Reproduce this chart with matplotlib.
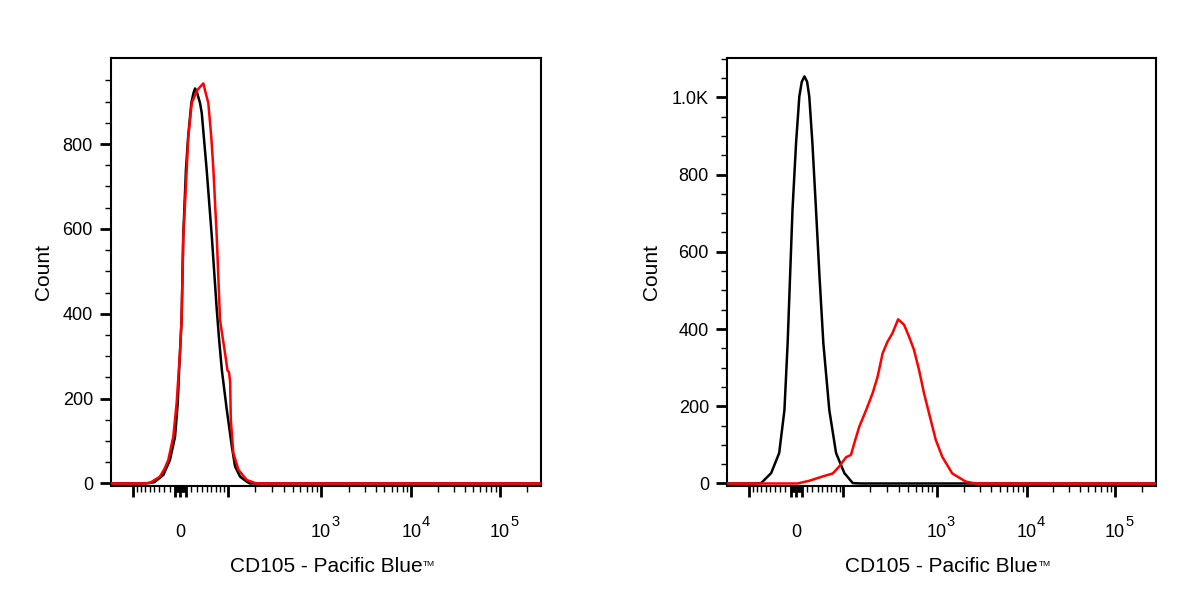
import numpy as np
import matplotlib
matplotlib.use("Agg")
import matplotlib.pyplot as plt

plt.rcParams['font.family'] = ['Liberation Sans', 'DejaVu Sans']

# histogram traces (intensity, count)
left_black_x = [-178, -70, -50, -32, -19.5, -10, -5, -2.5, 2, 5, 10, 14, 20, 24, 27, 30, 33.2,
                36.6, 40.1, 50.1, 61.2, 72.4, 78, 84.9, 98, 112.5, 122.5, 139.4, 165, 178, 290600]
left_black_y = [0, 0, 3, 20, 55, 110, 190, 267, 385, 581, 739, 816, 897, 920, 931, 925, 911,
                897, 873, 739, 581, 410, 340, 267, 173, 87, 40, 16, 4, 0, 0]

left_red_x = [-178, -83, -60, -38.7, -30, -22.6, -13.2, -7, -1, 2, 5.2, 11.4, 14.3, 20.8, 27,
              31.4, 37, 43.3, 47, 53.5, 60, 64.7, 72.4, 80.3, 93, 99.8, 104, 107.4, 109.4, 117,
              133.7, 165, 202, 230, 290600]
left_red_y = [0, 0, 1, 16, 34, 55, 110, 190, 308, 385, 581, 739, 816, 897, 915,
              927, 935, 943, 925, 897, 816, 739, 581, 385, 308, 267, 262, 240, 150, 72,
              32, 8, 1, 0, 0]

right_black_x = [-178, -90, -70, -48, -32, -22, -16, -11.5, -7, -0.5, 5.5, 10, 15, 20, 24, 30,
                 37, 44, 52, 65, 81, 103, 129, 160, 290600]
right_black_y = [0, 0, 1, 27, 79, 190, 363, 536, 709, 881, 1002, 1040, 1054, 1040, 1002, 881,
                 709, 536, 363, 190, 79, 27, 1, 0, 0]

right_red_x = [-178, 2, 24, 50, 73, 89, 108, 123, 134, 152, 180, 211, 238, 268, 301, 339, 389,
               449, 507, 572, 647, 731, 828, 979, 1153, 1482, 2082, 2684, 290600]
right_red_y = [0, 0, 7, 18, 26, 44, 68, 74, 104, 147, 190, 234, 277, 337, 367, 389, 425,
               411, 380, 346, 294, 234, 182, 113, 69, 26, 5, 0, 0]

x_label = "CD105 - Pacific Blue"
x_limits = (-178, 290600)
x_major = [-100, -10, 0, 10, 100, 1e3, 1e4, 1e5]
x_major_labels = ['', '', '0', '', '', '10', '10', '10']
x_exponents = {5: '3', 6: '4', 7: '5'}
x_minor = ([-s * m for m in range(1, 10) for s in (1, 10)] + [s * m for m in range(1, 10) for s in (1, 10)]
           + [s * m for m in range(2, 10) for s in (100, 1000, 10000)] + [2e5])

left_y_major = [0, 200, 400, 600, 800]
left_y_labels = ['0', '200', '400', '600', '800']
left_y_minor = list(range(50, 1000, 50))
left_ylim = (-6, 1004)

right_y_major = [0, 200, 400, 600, 800, 1000]
right_y_labels = ['0', '200', '400', '600', '800', '1.0K']
right_y_minor = list(range(50, 1101, 50))
right_ylim = (-6.5, 1103)

# biexponential (logicle-like) display transform
A_COEF = 24.5
P = 1.87


def biex(u):
    a = np.abs(u)
    return np.sign(u) * A_COEF * (10 ** a - P ** 2 * 10 ** (-a / P) + P ** 2 - 1)


u_grid = np.linspace(-3, 5.6, 60001)
s_grid = biex(u_grid)


def forward(x):
    return np.interp(x, s_grid, u_grid)


def inverse(u):
    return np.interp(u, u_grid, s_grid)


fig = plt.figure(figsize=(12, 6), dpi=100)
ax1 = fig.add_axes([111 / 1200, 114 / 600, 430 / 1200, 428.5 / 600])
ax2 = fig.add_axes([727 / 1200, 114 / 600, 429 / 1200, 428.5 / 600])

panels = [
    (ax1, left_black_x, left_black_y, left_red_x, left_red_y,
     left_y_major, left_y_labels, left_y_minor, left_ylim, -0.156),
    (ax2, right_black_x, right_black_y, right_red_x, right_red_y,
     right_y_major, right_y_labels, right_y_minor, right_ylim, -0.177),
]

for ax, bx, by, rx, ry, ymaj, ylab, ymin, ylim, ylab_x in panels:
    ax.set_xscale('function', functions=(forward, inverse))
    ax.plot(bx, by, color='black', lw=1.8, zorder=3, solid_joinstyle='round')
    ax.plot(rx, ry, color='#ff0000', lw=1.8, zorder=4, solid_joinstyle='round')
    ax.set_xlim(*x_limits)
    ax.set_ylim(*ylim)

    ax.set_xticks(x_major)
    ax.set_xticklabels(x_major_labels)
    ax.set_xticks(x_minor, minor=True)
    ax.set_yticks(ymaj)
    ax.set_yticklabels(ylab)
    ax.set_yticks(ymin, minor=True)

    ax.tick_params(axis='both', which='major', direction='out', length=8, width=2,
                   labelsize=13, top=False, right=False, color='black')
    ax.tick_params(axis='both', which='minor', direction='out', length=4.5, width=1,
                   top=False, right=False)
    ax.tick_params(axis='x', which='major', pad=28.5)
    ax.tick_params(axis='y', which='major', pad=5)
    plt.setp(ax.get_xticklabels(), va='baseline')

    # superscript exponents attached to the "10" tick labels
    ticks = ax.xaxis.get_major_ticks()
    for i, e in x_exponents.items():
        ax.annotate(e, xy=(1.0, 0.86), xycoords=ticks[i].label1, xytext=(0.2, 0),
                    textcoords='offset points', fontsize=10.5, ha='left', va='baseline',
                    annotation_clip=False)

    for sp in ax.spines.values():
        sp.set_linewidth(1.5)

    ax.set_xlabel(x_label, fontsize=15, va='center')
    ax.xaxis.set_label_coords(0.5, -0.187)
    ax.annotate('TM', xy=(1.0, 0.78), xycoords=ax.xaxis.label, xytext=(0.6, 0),
                textcoords='offset points', fontsize=6, ha='left', va='top',
                annotation_clip=False)
    ax.set_ylabel('Count', fontsize=15, va='center')
    ax.yaxis.set_label_coords(ylab_x, 0.5)

fig.savefig('out.png', dpi=100)
